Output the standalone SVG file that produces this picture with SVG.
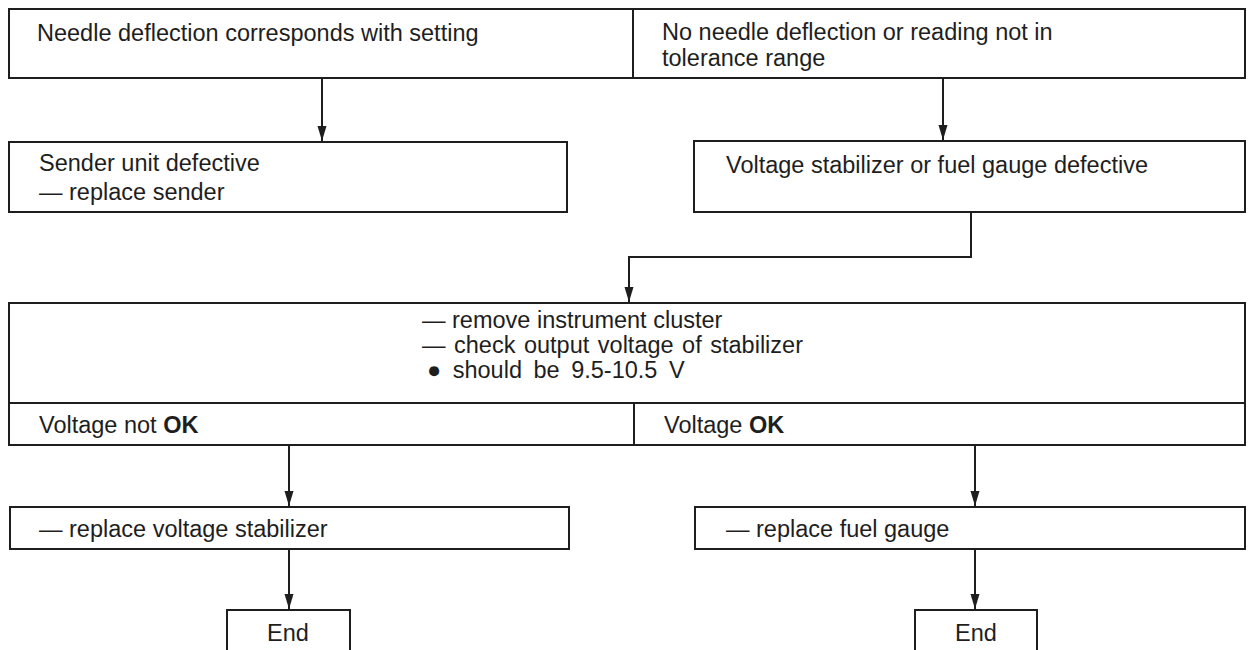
<svg xmlns="http://www.w3.org/2000/svg" width="1248" height="650" viewBox="0 0 1248 650">
<style>
.box{fill:#fff;stroke:#1e1e1e;stroke-width:2}
.ln{fill:none;stroke:#1e1e1e;stroke-width:2}
text{font-family:"Liberation Sans",Arial,sans-serif;font-size:23.5px;fill:#1e1e1e}
.b{font-weight:bold}
</style>
<defs>
<marker id="arr" markerUnits="userSpaceOnUse" markerWidth="16" markerHeight="10" refX="15" refY="5" orient="auto" viewBox="0 0 16 10">
<path d="M0,0.5 L15,5 L0,9.5 Z" fill="#1e1e1e"/>
</marker>
</defs>
<rect width="1248" height="650" fill="#fff"/>
<g id="n-top">
<rect class="box" x="9" y="9" width="1236" height="69"/>
<line class="ln" x1="633" y1="9" x2="633" y2="78"/>
<text x="37" y="41">Needle deflection corresponds with setting</text>
<text x="662" y="40">No needle deflection or reading not in</text>
<text x="662" y="66">tolerance range</text>
</g>
<g id="n-sender">
<rect class="box" x="9" y="142" width="558" height="70"/>
<text x="39" y="171">Sender unit defective</text>
<text x="39" y="200">— replace sender</text>
</g>
<g id="n-stab">
<rect class="box" x="694" y="141" width="551" height="71"/>
<text x="726" y="173">Voltage stabilizer or fuel gauge defective</text>
</g>
<g id="n-check">
<rect class="box" x="9" y="303" width="1236" height="142"/>
<line class="ln" x1="9" y1="403" x2="1245" y2="403"/>
<line class="ln" x1="634" y1="403" x2="634" y2="445"/>
<text x="422" y="328">— remove instrument cluster</text>
<text x="422" y="353" word-spacing="2">— check output voltage of stabilizer</text>
<text x="427" y="378" word-spacing="5">● should be 9.5-10.5 V</text>
<text x="39" y="433">Voltage not <tspan class="b">OK</tspan></text>
<text x="664" y="433">Voltage <tspan class="b">OK</tspan></text>
</g>
<g id="n-repstab">
<rect class="box" x="10" y="507" width="559" height="42"/>
<text x="39" y="537">— replace voltage stabilizer</text>
</g>
<g id="n-repgauge">
<rect class="box" x="695" y="507" width="550" height="42"/>
<text x="726" y="537">— replace fuel gauge</text>
</g>
<g id="n-end1">
<rect class="box" x="227" y="610" width="123" height="45"/>
<text x="288" y="641" text-anchor="middle">End</text>
</g>
<g id="n-end2">
<rect class="box" x="915" y="610" width="122" height="45"/>
<text x="976" y="641" text-anchor="middle">End</text>
</g>
<g id="connectors">
<path class="ln" d="M322,78 V141" marker-end="url(#arr)"/>
<path class="ln" d="M943,78 V140" marker-end="url(#arr)"/>
<path class="ln" d="M971,212 V257 H629 V302" marker-end="url(#arr)"/>
<path class="ln" d="M289,445 V506" marker-end="url(#arr)"/>
<path class="ln" d="M975,445 V506" marker-end="url(#arr)"/>
<path class="ln" d="M289,549 V609" marker-end="url(#arr)"/>
<path class="ln" d="M975,549 V609" marker-end="url(#arr)"/>
</g>
</svg>
